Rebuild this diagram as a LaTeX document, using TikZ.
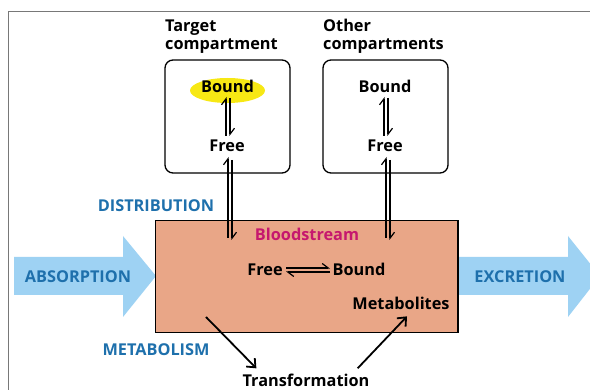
\documentclass[tikz,border=0pt]{standalone}
\usepackage{fontspec}
\setmainfont{Open Sans}
\usetikzlibrary{arrows.meta,calc,shapes.geometric}
\definecolor{blueT}{RGB}{30,112,172}
\definecolor{lightB}{RGB}{158,210,243}
\definecolor{salmon}{RGB}{233,166,135}
\definecolor{magT}{RGB}{198,24,110}
\definecolor{yel}{RGB}{247,232,20}
\definecolor{frameG}{RGB}{120,120,120}
\begin{document}
\begin{tikzpicture}[x=1pt,y=-1pt,
  txt/.style={font=\bfseries\fontsize{16.3}{19}\selectfont, inner sep=0pt, anchor=base},
  bluetxt/.style={txt, text=blueT},
  comp/.style={draw=black, line width=1.3pt, rounded corners=8pt},
  hp/.style={line width=1.2pt, -{Straight Barb[harpoon,length=6pt,width=9pt,line width=1.2pt]}},
  bigarrow/.style={fill=lightB, draw=none},
  blk/.style={line width=1.8pt, -{Straight Barb[length=7pt,width=12pt,line width=1.8pt]}}]
\useasboundingbox (0,0) rectangle (590,390);
% frame
\draw[frameG, line width=1.6pt] (8.5,400) -- (8.5,11.5) -- (600,11.5);
% titles
\node[txt, anchor=base west] (t1) at (165,32) {Target};
\node[txt, anchor=base west] (t2) at (165,50) {compartment};
\node[txt, anchor=base west] (o1) at (323,32) {Other};
\node[txt, anchor=base west] (o2) at (323,50) {compartments};
% compartment boxes
\draw[comp] (165,60) rectangle (290,173);
\draw[comp] (323,60) rectangle (448,173);
% yellow ellipse + bound
\node[ellipse, fill=yel, minimum width=75pt, minimum height=25pt, inner sep=0pt] (ell) at (227.5,90.5) {};
\node[txt] (tb) at (227.5,93) {Bound};
\node[txt] (tf) at (227,152) {Free};
\node[txt] (ob) at (385,93) {Bound};
\node[txt] (of) at (385,152) {Free};
% big arrows
\draw[bigarrow] (14,257) -- (123,257) -- (123,236) -- (156,276) -- (123,317) -- (123,295) -- (14,295) -- cycle;
\draw[bigarrow] (450,257) -- (568,257) -- (568,236) -- (600,276) -- (568,317) -- (568,295) -- (450,295) -- cycle;
\node[bluetxt] (abs) at (78,283) {ABSORPTION};
\node[bluetxt] (exc) at (520,283) {EXCRETION};
% bloodstream
\draw[fill=salmon, draw=black, line width=1.3pt] (155.5,220.5) rectangle (458,332.5);
\node[txt, text=magT] (bs) at (307,241) {Bloodstream};
\node[txt] (bf) at (265,276) {Free};
\node[txt] (bb) at (359,276) {Bound};
\node[txt] (met) at (401,310) {Metabolites};
\node[txt] (tr) at (306,387) {Transformation};
\node[bluetxt] (dist) at (156,212) {DISTRIBUTION};
\node[bluetxt] (metab) at (156,356) {METABOLISM};
% compartment harpoons
\draw[hp] ($(tf.base)+(-1,-16)$) -- ($(tb.base)+(-1.5,4)$);
\draw[hp] ($(tb.base)+(2.5,5)$) -- ($(tf.base)+(3,-16)$);
\draw[hp] ($(of.base)+(-1,-16)$) -- ($(ob.base)+(-1,4)$);
\draw[hp] ($(ob.base)+(3,5)$) -- ($(of.base)+(3,-16)$);
% distribution harpoons
\draw[hp] ($(bs.base)+(-79,-3)$) -- ($(tf.base)+(1,5)$);
\draw[hp] ($(tf.base)+(5,8)$) -- ($(bs.base)+(-75,-1)$);
\draw[hp] ($(bs.base)+(79,-3)$) -- ($(of.base)+(1,5)$);
\draw[hp] ($(of.base)+(5,8)$) -- ($(bs.base)+(83,-1)$);
% free <-> bound
\draw[hp] ($(bf.base)+(21,-8)$) -- ($(bb.base)+(-29,-8)$);
\draw[hp] ($(bb.base)+(-29,-4)$) -- ($(bf.base)+(21,-4)$);
% metabolism arrows
\coordinate (m1) at (206,317);
\draw[blk] (m1) -- ($(tr.north west)+(14,-6)$);
\draw[blk] ($(tr.north east)+(-12,-6)$) -- ($(met.south)+(6,6)$);
\end{tikzpicture}
\end{document}
